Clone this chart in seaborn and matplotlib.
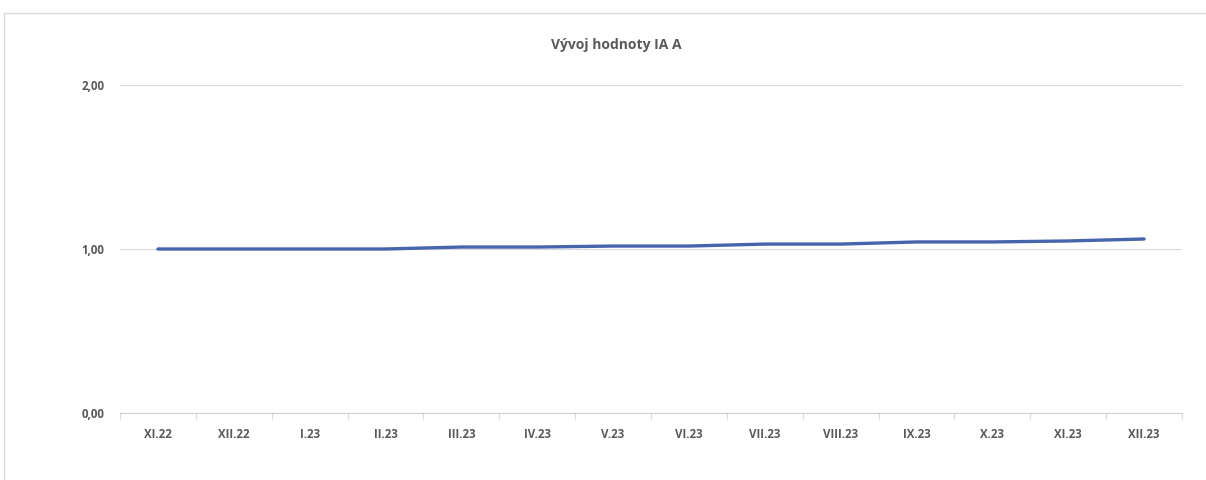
import matplotlib
matplotlib.use("Agg")
import matplotlib.pyplot as plt
import matplotlib.patches as mpatches
from matplotlib.ticker import FixedLocator, FuncFormatter
import seaborn as sns
import pandas as pd

months = ["XI.22", "XII.22", "I.23", "II.23", "III.23", "IV.23", "V.23",
          "VI.23", "VII.23", "VIII.23", "IX.23", "X.23", "XI.23", "XII.23"]
values = [1.00, 1.00, 1.00, 1.00, 1.012, 1.012, 1.018,
          1.018, 1.03, 1.03, 1.043, 1.043, 1.049, 1.061]
yticks = [0.0, 1.0, 2.0]
title = "Vývoj hodnoty IA A"

sns.set_style("white")
plt.rcParams['font.family'] = ['Open Sans', 'DejaVu Sans']

df = pd.DataFrame({"month": months, "value": values})
df["pos"] = range(len(months))

fig = plt.figure(figsize=(12.06, 4.8), dpi=100)
ax = fig.add_axes([120/1206, (480-413)/480, (1182-120)/1206, (413-85)/480])

sns.lineplot(data=df, x="pos", y="value", ax=ax, color="#4765AD", linewidth=2.4)

ax.set_xlim(-0.5, len(months) - 0.5)
ax.set_ylim(0, 2)
ax.set_yticks(yticks)
ax.yaxis.set_major_formatter(FuncFormatter(lambda v, p: f"{v:.2f}".replace(".", ",")))
ax.set_xticks(range(len(months)))
ax.set_xticklabels(months)
ax.xaxis.set_minor_locator(FixedLocator([i - 0.5 for i in range(len(months) + 1)]))
ax.tick_params(axis="x", which="major", bottom=False, length=0, pad=11, labelsize=8.3, labelcolor="#595959")
ax.tick_params(axis="x", which="minor", bottom=True, length=4, width=0.8, color="#d9d9d9", direction="out")
ax.tick_params(axis="y", length=0, pad=11, labelsize=8.3, labelcolor="#595959")
for lbl in ax.get_xticklabels() + ax.get_yticklabels():
    lbl.set_fontweight("bold")

ax.set_xlabel("")
ax.set_ylabel("")
ax.grid(axis="y", color="#d9d9d9", linewidth=0.8)
ax.set_axisbelow(True)
for s in ["top", "right", "left"]:
    ax.spines[s].set_visible(False)
ax.spines["bottom"].set_color("#d0d0d0")
ax.spines["bottom"].set_linewidth(0.8)

fig.text(616/1206, 1 - 45/480, title, ha="center", va="center",
         fontsize=10, fontweight="bold", color="#595959")

border = mpatches.Rectangle((4/1206, -0.1), 1.2, 1 - 13/480 + 0.1,
                            transform=fig.transFigure, fill=False,
                            edgecolor="#d9d9d9", linewidth=1)
fig.patches.append(border)

fig.savefig("out.png", dpi=100)
